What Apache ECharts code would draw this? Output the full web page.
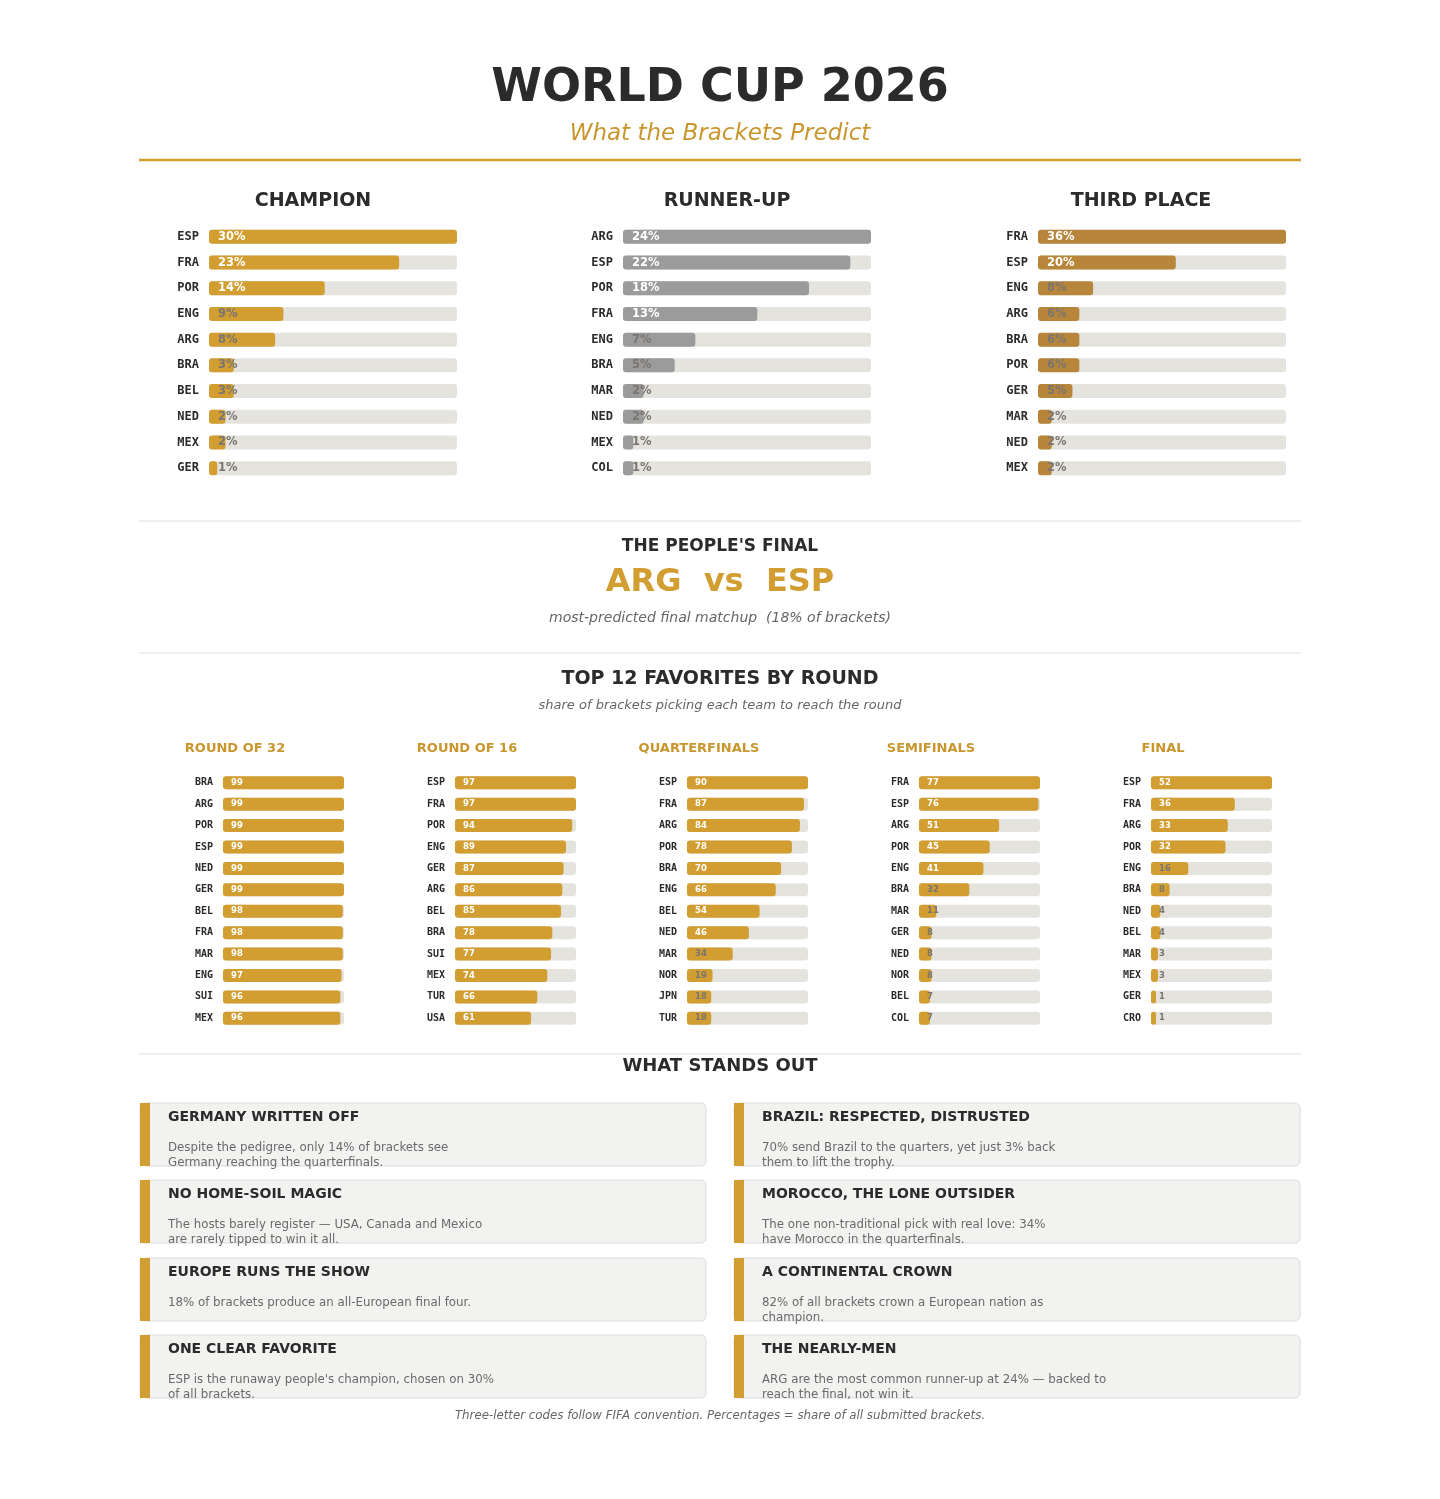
<!DOCTYPE html>
<html><head><meta charset="utf-8">
<script src="https://cdn.jsdelivr.net/npm/echarts@6/dist/echarts.min.js"></script>
<style>html,body{margin:0;padding:0;background:#fff}#c{width:1440px;height:1499px}</style>
</head><body><div id="c"></div>
<script>
const championTeams=['ESP','FRA','POR','ENG','ARG','BRA','BEL','NED','MEX','GER'];
const championPct=[30,23,14,9,8,3,3,2,2,1];
const runnerTeams=['ARG','ESP','POR','FRA','ENG','BRA','MAR','NED','MEX','COL'];
const runnerPct=[24,22,18,13,7,5,2,2,1,1];
const thirdTeams=['FRA','ESP','ENG','ARG','BRA','POR','GER','MAR','NED','MEX'];
const thirdPct=[36,20,8,6,6,6,5,2,2,2];
const r32Teams=['BRA','ARG','POR','ESP','NED','GER','BEL','FRA','MAR','ENG','SUI','MEX'];
const r32Vals=[99,99,99,99,99,99,98,98,98,97,96,96];
const r16Teams=['ESP','FRA','POR','ENG','GER','ARG','BEL','BRA','SUI','MEX','TUR','USA'];
const r16Vals=[97,97,94,89,87,86,85,78,77,74,66,61];
const qfTeams=['ESP','FRA','ARG','POR','BRA','ENG','BEL','NED','MAR','NOR','JPN','TUR'];
const qfVals=[90,87,84,78,70,66,54,46,34,19,18,18];
const sfTeams=['FRA','ESP','ARG','POR','ENG','BRA','MAR','GER','NED','NOR','BEL','COL'];
const sfVals=[77,76,51,45,41,32,11,8,8,8,7,7];
const finalTeams=['ESP','FRA','ARG','POR','ENG','BRA','NED','BEL','MAR','MEX','GER','CRO'];
const finalVals=[52,36,33,32,16,8,4,4,3,3,1,1];
const cards=[
 ['GERMANY WRITTEN OFF',['Despite the pedigree, only 14% of brackets see','Germany reaching the quarterfinals.']],
 ['BRAZIL: RESPECTED, DISTRUSTED',['70% send Brazil to the quarters, yet just 3% back','them to lift the trophy.']],
 ['NO HOME-SOIL MAGIC',['The hosts barely register — USA, Canada and Mexico','are rarely tipped to win it all.']],
 ['MOROCCO, THE LONE OUTSIDER',['The one non-traditional pick with real love: 34%','have Morocco in the quarterfinals.']],
 ['EUROPE RUNS THE SHOW',['18% of brackets produce an all-European final four.']],
 ['A CONTINENTAL CROWN',['82% of all brackets crown a European nation as','champion.']],
 ['ONE CLEAR FAVORITE',['ESP is the runaway people\'s champion, chosen on 30%','of all brackets.']],
 ['THE NEARLY-MEN',['ARG are the most common runner-up at 24% — backed to','reach the final, not win it.']]
];
const GOLD='#d29d31', SANS='"DejaVu Sans", sans-serif', MONO='"DejaVu Sans Mono", monospace';
const chart=echarts.init(document.getElementById('c'));
const grids=[],xAxes=[],yAxes=[],series=[];
function panel(teams,vals,left,width,top,height,color,suffix,fs,labFs,barW,minW,off){
  const i=grids.length, mx=Math.max(...vals);
  grids.push({left:left,top:top+1,width:width,height:height});
  xAxes.push({gridIndex:i,type:'value',min:0,max:mx,show:false});
  yAxes.push({gridIndex:i,type:'category',data:teams,inverse:true,axisLine:{show:false},axisTick:{show:false},
    axisLabel:{fontFamily:MONO,fontWeight:'bold',fontSize:fs,color:'#2b2b2b',margin:10}});
  series.push({type:'bar',xAxisIndex:i,yAxisIndex:i,barWidth:barW,barMinHeight:minW,showBackground:true,
    backgroundStyle:{color:'#e4e3de',borderRadius:3},itemStyle:{color:color,borderRadius:3},
    data:vals.map(v=>({value:v,label:{color:(v/mx>0.45)?'#fff':'#7a7570'}})),
    label:{show:true,position:'insideLeft',offset:[off,0],fontFamily:SANS,fontWeight:'bold',fontSize:labFs,
      formatter:p=>p.value+suffix},silent:true});
}
panel(championTeams,championPct,209,248,223,257,GOLD,'%',12,11.5,14,6,4);
panel(runnerTeams,runnerPct,623,248,223,257,'#9b9b9b','%',12,11.5,14,6,4);
panel(thirdTeams,thirdPct,1038,248,223,257,'#b8863b','%',12,11.5,14,6,4);
const rx=[223,455,687,919,1151];
[[r32Teams,r32Vals],[r16Teams,r16Vals],[qfTeams,qfVals],[sfTeams,sfVals],[finalTeams,finalVals]].forEach((d,k)=>
  panel(d[0],d[1],rx[k],121,771,257,GOLD,'',10,8.5,13,5,3));
const g=[];
function txt(x,y,t,fs,color,opt){g.push({type:'text',x:x,y:y,silent:true,style:Object.assign({text:t,fontSize:fs,fill:color,fontFamily:SANS,textAlign:'center',textVerticalAlign:'middle'},opt||{})});}
function line(y,color,w){g.push({type:'line',shape:{x1:139,y1:y,x2:1301,y2:y},style:{stroke:color,lineWidth:w}});}
txt(720,89,'WORLD CUP 2026',46,'#2b2b2b',{fontWeight:'bold'});
txt(720,134,'What the Brackets Predict',23,'#c9962e',{fontStyle:'italic'});
line(160,'#d29d31',2.5);
txt(313,201,'CHAMPION',19,'#2b2b2b',{fontWeight:'bold'});
txt(727,201,'RUNNER-UP',19,'#2b2b2b',{fontWeight:'bold'});
txt(1141,201,'THIRD PLACE',19,'#2b2b2b',{fontWeight:'bold'});
line(521,'#dddddd',1.2);
txt(720,547,"THE PEOPLE'S FINAL",17,'#2b2b2b',{fontWeight:'bold'});
txt(720,583,'ARG  vs  ESP',32,GOLD,{fontWeight:'bold'});
txt(720,618,'most-predicted final matchup  (18% of brackets)',14,'#666',{fontStyle:'italic'});
line(653,'#dddddd',1.2);
txt(720,679,'TOP 12 FAVORITES BY ROUND',19,'#2b2b2b',{fontWeight:'bold'});
txt(720,706,'share of brackets picking each team to reach the round',13,'#666',{fontStyle:'italic'});
[['ROUND OF 32',235],['ROUND OF 16',467],['QUARTERFINALS',699],['SEMIFINALS',931],['FINAL',1163]].forEach(r=>
  txt(r[1],749,r[0],13,'#c9962e',{fontWeight:'bold'}));
line(1054,'#dddddd',1.2);
txt(720,1066,'WHAT STANDS OUT',18,'#2b2b2b',{fontWeight:'bold'});
const cy=[1103,1180,1258,1335];
cards.forEach((c,i)=>{
  const x=i%2===0?140:734, y=cy[Math.floor(i/2)];
  g.push({type:'rect',shape:{x:x,y:y,width:566,height:63,r:5},style:{fill:'#f2f2f0',stroke:'#dcdcdc',lineWidth:1}});
  g.push({type:'rect',shape:{x:x,y:y,width:10,height:63},style:{fill:GOLD}});
  txt(x+28,y+14,c[0],14,'#2b2b2b',{fontWeight:'bold',textAlign:'left'});
  c[1].forEach((l,j)=>txt(x+28,y+45+j*14.5,l,11.8,'#6a6a6a',{textAlign:'left'}));
});
txt(720,1416,'Three-letter codes follow FIFA convention. Percentages = share of all submitted brackets.',11.8,'#666',{fontStyle:'italic'});
chart.setOption({animation:false,grid:grids,xAxis:xAxes,yAxis:yAxes,series:series,graphic:g});
</script></body></html>
